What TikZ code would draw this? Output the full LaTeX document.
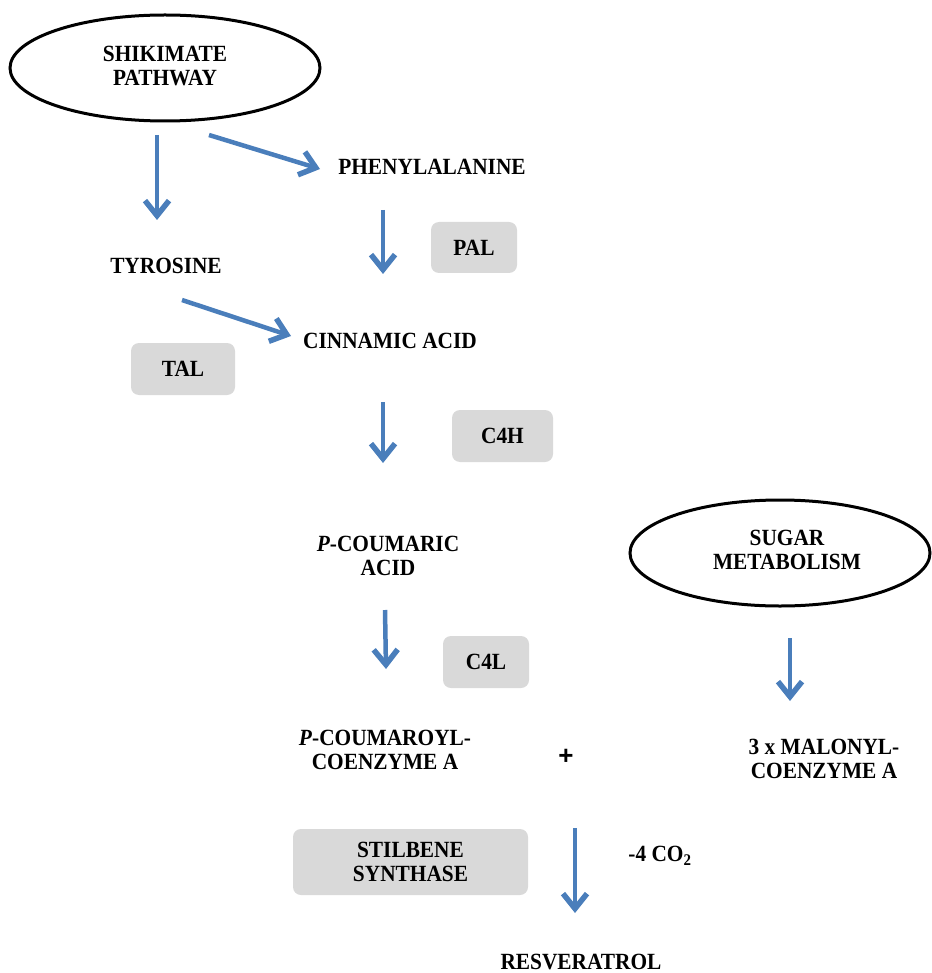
\documentclass[tikz,border=0pt]{standalone}
\usepackage{fontspec}
\setmainfont{Liberation Serif}[FakeStretch=0.92]
\newfontfamily\plusfont{Liberation Sans}
\usetikzlibrary{arrows.meta,shapes.geometric}
\definecolor{arrowblue}{RGB}{74,126,187}
\definecolor{boxgray}{RGB}{217,217,217}
\tikzset{
  lbl/.style={font=\bfseries\fontsize{23.2}{24}\selectfont, align=center, inner sep=0pt},
  oval/.style={ellipse, draw=black, line width=3pt, inner sep=0pt},
  enzyme/.style={rounded corners=8pt, fill=boxgray, inner sep=0pt, font=\bfseries\fontsize{23.2}{24}\selectfont, align=center},
  flow/.style={draw=arrowblue, line width=4.5pt, -{Straight Barb[length=15pt,width=24pt,line width=5.5pt]}},
}
\begin{document}
\begin{tikzpicture}[x=1pt,y=-1pt]
\useasboundingbox (0,0) rectangle (931,973);
% ovals
\node[oval, minimum width=310pt, minimum height=106pt] (shik) at (165,68) {};
\node[lbl] (shiktxt) at (165,66) {SHIKIMATE\\PATHWAY};
\node[oval, minimum width=300pt, minimum height=106pt] (sugar) at (780,553) {};
\node[lbl] (sugartxt) at (787,550) {SUGAR\\METABOLISM};
% compounds
\node[lbl] (phe) at (432,167) {PHENYLALANINE};
\node[lbl] (tyr) at (166,266) {TYROSINE};
\node[lbl] (cin) at (390,341) {CINNAMIC ACID};
\node[lbl] (pca) at (388,556) {\textit{P}-COUMARIC\\ACID};
\node[lbl] (pcoa) at (385,750) {\textit{P}-COUMAROYL-\\COENZYME A};
\node[lbl] (mal) at (824,759) {3 x MALONYL-\\COENZYME A};
\node[font=\plusfont\bfseries\fontsize{26}{26}\selectfont, inner sep=0pt] (plus) at (566,757) {+};
\node[lbl] (co2) at (660,856) {-4 CO\textsubscript{2}};
\node[lbl] (res) at (581,962) {RESVERATROL};
% enzymes
\node[enzyme, minimum width=86pt, minimum height=51pt] (pal) at (474,247.5) {PAL};
\node[enzyme, minimum width=104pt, minimum height=52pt] (tal) at (183,369) {TAL};
\node[enzyme, minimum width=101pt, minimum height=52pt] (c4h) at (502.5,436) {C4H};
\node[enzyme, minimum width=86pt, minimum height=52pt] (c4l) at (486,662) {C4L};
\node[enzyme, minimum width=235pt, minimum height=66pt] (sts) at (410.5,862) {STILBENE\\SYNTHASE};
% arrow end points
\coordinate (a1s) at (157,135); \coordinate (a1e) at (157,220);
\coordinate (a2s) at (209,135); \coordinate (a2e) at (320,169);
\coordinate (a3s) at (383,210); \coordinate (a3e) at (383,274);
\coordinate (a4s) at (182,300); \coordinate (a4e) at (291,336);
\coordinate (a5s) at (383,402); \coordinate (a5e) at (383,463);
\coordinate (a6s) at (385,610); \coordinate (a6e) at (386,669);
\coordinate (a7s) at (790,638); \coordinate (a7e) at (790,701);
\coordinate (a8s) at (575,828); \coordinate (a8e) at (575,913);
\draw[flow] (a1s) -- (a1e);
\draw[flow] (a2s) -- (a2e);
\draw[flow] (a3s) -- (a3e);
\draw[flow] (a4s) -- (a4e);
\draw[flow] (a5s) -- (a5e);
\draw[flow] (a6s) -- (a6e);
\draw[flow] (a7s) -- (a7e);
\draw[flow] (a8s) -- (a8e);
\end{tikzpicture}
\end{document}
